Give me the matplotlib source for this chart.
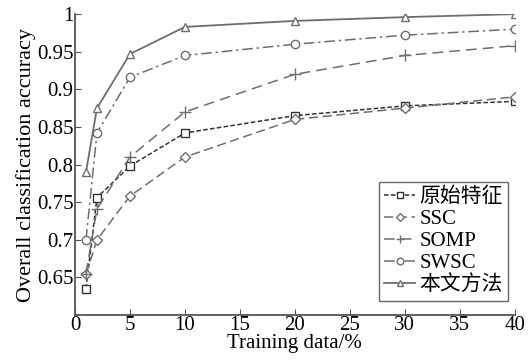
import numpy as np
import matplotlib.pyplot as plt

plt.rcParams['font.family'] = ['Liberation Serif', 'Noto Sans CJK SC']
plt.rcParams['font.size'] = 15

x = [1, 2, 5, 10, 20, 30, 40]
raw = [0.635, 0.756, 0.798, 0.842, 0.865, 0.878, 0.884]
ssc = [0.654, 0.700, 0.758, 0.810, 0.860, 0.875, 0.890]
somp = [0.655, 0.741, 0.810, 0.870, 0.920, 0.945, 0.958]
swsc = [0.700, 0.842, 0.916, 0.945, 0.960, 0.972, 0.980]
ours = [0.790, 0.875, 0.947, 0.983, 0.991, 0.996, 1.000]
names = ['原始特征', 'SSC', 'SOMP', 'SWSC', '本文方法']

fig = plt.figure(figsize=(5.28, 3.62), dpi=100)
ax = fig.add_axes([0.142, 0.13, 0.833, 0.831])

g = '#6e6e6e'
ax.plot(x, raw, color='#333333', ls=(0, (3, 1.5)), marker='s', mfc='white', ms=6, lw=1.1, label=names[0])
ax.plot(x, ssc, color=g, ls=(0, (6, 3)), marker='D', mfc='white', ms=5, lw=1.1, label=names[1])
ax.plot(x, somp, color=g, ls=(0, (7, 4)), marker='+', ms=8, lw=1.1, label=names[2])
ax.plot(x, swsc, color=g, ls=(0, (7, 2.5, 1.5, 2.5)), marker='o', mfc='white', ms=6, lw=1.1, label=names[3])
ax.plot(x, ours, color=g, ls='-', marker='^', mfc='white', ms=6, lw=1.3, label=names[4])

ax.set_xlim(0, 40)
ax.set_ylim(0.6, 1.0)
ax.set_xticks(np.arange(0, 41, 5))
ax.set_yticks([0.65, 0.7, 0.75, 0.8, 0.85, 0.9, 0.95, 1])
ax.set_yticklabels(['0.65', '0.7', '0.75', '0.8', '0.85', '0.9', '0.95', '1'])
ax.tick_params(direction='in', length=4, color='#555555', pad=1, labelsize=15)
for s in ['top', 'right']:
    ax.spines[s].set_visible(False)
for s in ['left', 'bottom']:
    ax.spines[s].set_color('#555555')
    ax.spines[s].set_linewidth(1.3)

ax.set_xlabel('Training data/%', fontsize=15, labelpad=-1)
ax.set_ylabel('Overall classification accuracy', fontsize=16, labelpad=1)
leg = ax.legend(loc='lower right', fontsize=15, frameon=True, fancybox=False, edgecolor='#444444',
                handlelength=1.5, handletextpad=0.2, labelspacing=0.12, borderpad=0.25,
                borderaxespad=0.1, bbox_to_anchor=(0.99, 0.04), markerscale=0.8)
leg.get_frame().set_linewidth(1.0)

plt.savefig('out.png', dpi=100)
